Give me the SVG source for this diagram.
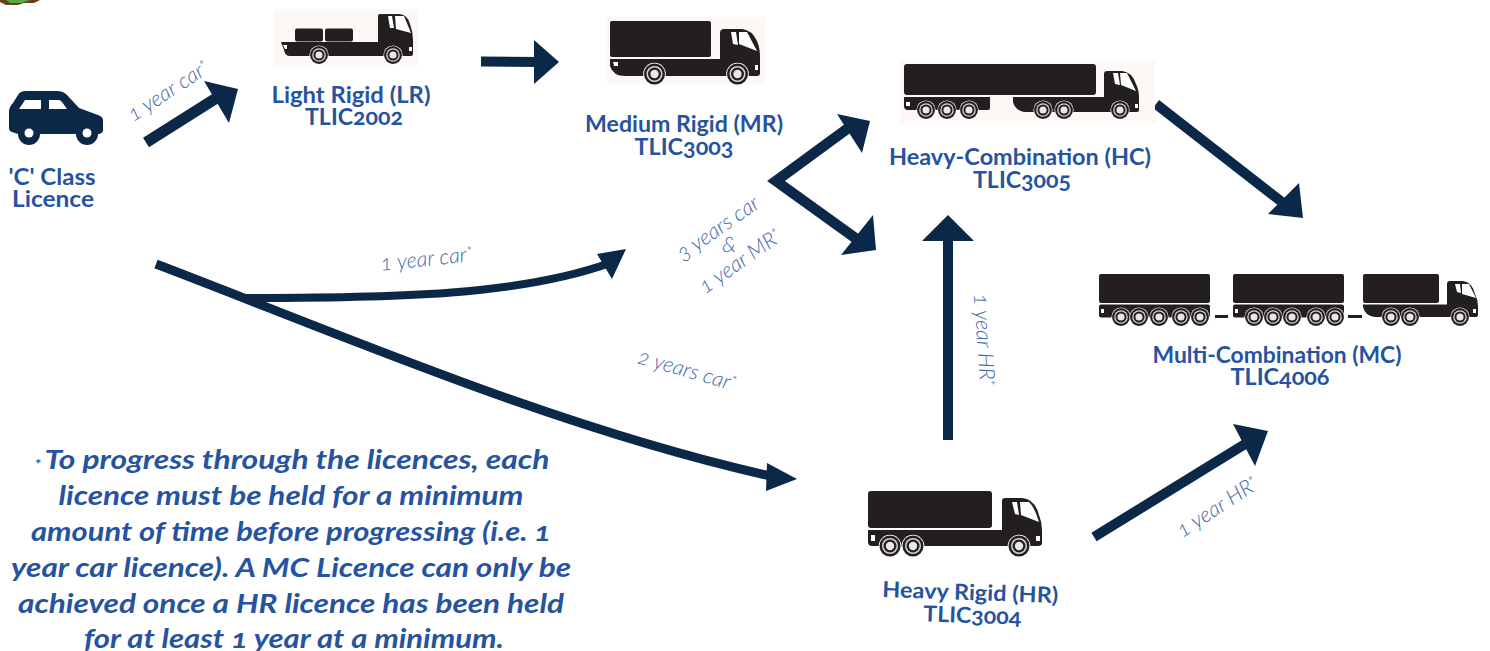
<svg xmlns="http://www.w3.org/2000/svg" width="1490" height="651" viewBox="0 0 1490 651">
<style>
text{font-family:"Lato","Open Sans","Liberation Sans",sans-serif;text-anchor:middle;font-variant-numeric:oldstyle-nums}
.t{font-size:22px;font-weight:700;fill:#2653a0}
.l{font-size:21.500px;font-weight:300;font-style:italic;fill:#3f67b0}
.n{font-size:27.500px;font-weight:700;font-style:italic;fill:#2653a0}
.s{font-size:14px}
.b{fill:#231f20}
.bg{fill:#fdf8f5}
.g{fill:#fff}
.sh{fill:none;stroke:#0b2848;stroke-linecap:butt}
.h{fill:#0b2848}
</style>
<defs>
<g id="w"><circle r="11.300" fill="#fff"/><circle r="10.500" fill="#231f20"/><circle r="8" fill="#d8d4d2"/><circle r="6.500" fill="#231f20"/><circle r="4.200" fill="#e9e6e4"/></g>
</defs>
<rect width="1490" height="651" fill="#fff"/>
<g id="logo-corner"><path d="M0 0H40L34 3H24L18 5H6L0 2Z" fill="#6b3d1e"/><path d="M6 0H30L22 3H10Z" fill="#5aa845"/></g>

<g id="connectors">
<path class="sh" stroke-width="11" d="M146 142.500L218 97"/><polygon class="h" points="204,81 238,89 229,123"/>
<path class="sh" stroke-width="10" d="M481 61.500L537 62"/><polygon class="h" points="534,40 559,62 534,84"/>
<path class="sh" stroke-width="10.500" d="M851 126L776 181L858 240"/><polygon class="h" points="837,114 870,121 862,153"/><polygon class="h" points="873,215 876,250 841,255"/>
<path class="sh" stroke-width="10" d="M1156 104L1287 206"/><polygon class="h" points="1299,183 1303,218 1268,214"/>
<path class="sh" stroke-width="10" d="M948 440V238"/><polygon class="h" points="922,241 948,215 974,241"/>
<path class="sh" stroke-width="10" d="M1094 537L1250 441"/><polygon class="h" points="1233,424 1268,431 1255,466"/>
<path class="sh" stroke-width="9" stroke-linecap="round" d="M156 264C330 330 560 430 775 477"/><polygon class="h" points="767,463 797,479 766,491"/>
<path class="sh" stroke-width="8" d="M245 298C400 298 520 295 610 263"/><polygon class="h" points="597,254 626,249 612,279"/>
</g>

<g id="node-car">
<path fill="#0b2848" d="M9 112Q9 107 13 103L18 95Q20 91 26 91H57Q63 91 67 95L79 108L98 115Q103 117 103 120V130Q103 133 99 134H98A11 11 0 0 1 76 134H40A11 11 0 0 1 18 134L12 132Q9 131 9 128Z"/>
<path fill="#fff" d="M19 109L25 100H41V109ZM49 100H58Q61 100 62 102L67 109H49Z"/>
<circle cx="29" cy="133" r="4.500" fill="#fff"/><circle cx="87" cy="133" r="4.500" fill="#fff"/>
<text class="t" x="52" y="185" textLength="87" lengthAdjust="spacingAndGlyphs">'C' Class</text>
<text class="t" x="53" y="207" textLength="82" lengthAdjust="spacingAndGlyphs">Licence</text>
</g>

<g id="node-lr">
<rect class="bg" x="273" y="9" width="146" height="56"/>
<rect class="b" x="295" y="28.500" width="28" height="13" rx="2"/><rect class="b" x="325" y="28.500" width="28" height="13" rx="2"/>
<path class="b" d="M378 42V16Q378 14 380 14H399Q407 14 410 24Q413 32 413 40V54Q413 56 411 56H290Q285 56 284 50L281 42Z"/>
<path class="g" d="M388 16H392L394 28H390ZM395 16H404L411 33L396 29ZM283 45H287V49H285ZM409 47H412V51H409Z"/>
<use href="#w" transform="translate(319 55) scale(.85)"/>
<use href="#w" transform="translate(393 55) scale(.85)"/>
<text class="t" x="351" y="103" textLength="159" lengthAdjust="spacingAndGlyphs">Light Rigid (LR)</text>
<text class="t" x="354" y="125" textLength="98" lengthAdjust="spacingAndGlyphs">TLIC2002</text>
</g>

<g id="node-mr">
<rect class="bg" x="607" y="17" width="158" height="67"/>
<rect class="b" x="610" y="21" width="101" height="36" rx="2"/>
<path class="b" d="M720 33Q720 29 724 29H742Q752 30 757 41Q760 48 760 57V73Q760 76 757 76H625Q613 76 610 66V59H720Z"/>
<path class="g" d="M731 32H736L738 45L733 44ZM739 32H747L757 51L739 44ZM613 62H618V66H614ZM755 65H758V70H755Z"/>
<use href="#w" x="654.500" y="74"/><use href="#w" x="737.500" y="74"/>
<text class="t" x="684" y="132" textLength="198" lengthAdjust="spacingAndGlyphs">Medium Rigid (MR)</text>
<text class="t" x="684" y="155" textLength="99" lengthAdjust="spacingAndGlyphs">TLIC3003</text>
</g>

<g id="node-hc">
<rect class="bg" x="900" y="61" width="255" height="62"/>
<rect class="b" x="904" y="64" width="192" height="31" rx="3"/>
<path class="b" d="M904 97H990V108Q990 110 988 110H908Q904 110 904 106Z"/>
<path class="b" d="M1104 74Q1104 71 1107 71H1122Q1132 72 1136 84Q1139 90 1139 98V110Q1139 112 1137 112H1026Q1015 111 1013 102V97H1104Z"/>
<path class="g" d="M1113 73H1118L1120 85L1115 84ZM1120 73H1127L1136 91L1121 85ZM906 102H910V106H906ZM1135 104H1138V108H1135Z"/>
<use href="#w" transform="translate(926 110) scale(.85)"/><use href="#w" transform="translate(947 110) scale(.85)"/><use href="#w" transform="translate(969 110) scale(.85)"/><use href="#w" transform="translate(1043 110) scale(.85)"/><use href="#w" transform="translate(1064 110) scale(.85)"/><use href="#w" transform="translate(1120 110) scale(.85)"/>
<text class="t" x="1020" y="165" textLength="262" lengthAdjust="spacingAndGlyphs">Heavy-Combination (HC)</text>
<text class="t" x="1022" y="188" textLength="98" lengthAdjust="spacingAndGlyphs">TLIC3005</text>
</g>

<g id="node-mc">
<rect class="b" x="1099" y="274" width="111" height="29" rx="2"/><rect class="b" x="1099" y="304.500" width="111" height="13" rx="2"/>
<rect class="b" x="1215" y="315" width="13" height="3"/>
<rect class="b" x="1233" y="274" width="111" height="29" rx="2"/><rect class="b" x="1233" y="304.500" width="111" height="13" rx="2"/>
<rect class="b" x="1348" y="315" width="14" height="3"/>
<rect class="b" x="1363" y="274" width="76" height="29" rx="2"/>
<path class="b" d="M1447 284Q1447 281 1450 281H1463Q1472 282 1475 294Q1478 300 1478 306V315Q1478 317 1476 317H1375Q1365 316 1363 307V304.500H1447Z"/>
<path class="g" d="M1455 284H1460L1461 293L1457 292ZM1462 284H1469L1476 298L1462 294ZM1101 309H1104V313H1101ZM1235 309H1238V313H1235ZM1473 309H1476V313H1473Z"/>
<use href="#w" transform="translate(1121 317) scale(.85)"/><use href="#w" transform="translate(1139 317) scale(.85)"/><use href="#w" transform="translate(1159 317) scale(.85)"/><use href="#w" transform="translate(1181 317) scale(.85)"/><use href="#w" transform="translate(1200 317) scale(.85)"/>
<use href="#w" transform="translate(1254 317) scale(.85)"/><use href="#w" transform="translate(1273 317) scale(.85)"/><use href="#w" transform="translate(1292 317) scale(.85)"/><use href="#w" transform="translate(1316 317) scale(.85)"/><use href="#w" transform="translate(1335 317) scale(.85)"/>
<use href="#w" transform="translate(1391 317) scale(.85)"/><use href="#w" transform="translate(1410 317) scale(.85)"/><use href="#w" transform="translate(1460 317) scale(.85)"/>
<text class="t" x="1277" y="363" textLength="249" lengthAdjust="spacingAndGlyphs">Multi-Combination (MC)</text>
<text class="t" x="1280" y="385" textLength="99" lengthAdjust="spacingAndGlyphs">TLIC4006</text>
</g>

<g id="node-hr">
<rect class="b" x="868" y="491" width="124" height="37" rx="3"/>
<path class="b" d="M1002 501Q1002 498 1005 498H1022Q1035 499 1039 515Q1042 522 1042 530V543Q1042 546 1038 546H872Q868 546 868 542V530H1002Z"/>
<path class="g" d="M1012 502H1017L1019 515L1015 514ZM1020 502H1029Q1035 508 1039 522L1021 515ZM871 535H875V541H871ZM1036 536H1040V541H1036Z"/>
<use href="#w" x="890" y="546"/><use href="#w" x="913" y="546"/><use href="#w" x="1019" y="546"/>
<text class="t" x="970" y="600" textLength="176" lengthAdjust="spacingAndGlyphs" transform="rotate(2 970 600)">Heavy Rigid (HR)</text>
<text class="t" x="972" y="623" textLength="98" lengthAdjust="spacingAndGlyphs" transform="rotate(2 972 623)">TLIC3004</text>
</g>

<g id="labels">
<text class="l" transform="translate(172 97) rotate(-33)">1 year car<tspan class="s" dy="-5">*</tspan></text>
<text class="l" transform="translate(427 266) rotate(-6)">1 year car<tspan class="s" dy="-5">*</tspan></text>
<text class="l" transform="translate(685 377) rotate(16)">2 years car<tspan class="s" dy="-5">*</tspan></text>
<text class="l" transform="translate(977 340) rotate(86)">1 year HR<tspan class="s" dy="-5">*</tspan></text>
<text class="l" transform="translate(1221 513) rotate(-33)">1 year HR<tspan class="s" dy="-5">*</tspan></text>
<text class="l" transform="translate(722 234) rotate(-35)">3 years car</text>
<text class="l" transform="translate(729 252)">&amp;</text>
<text class="l" transform="translate(744 267) rotate(-35)">1 year MR<tspan class="s" dy="-5">*</tspan></text>
</g>

<g id="footnote">
<text class="n" x="292" y="469" textLength="515" lengthAdjust="spacingAndGlyphs"><tspan class="s">* </tspan>To progress through the licences, each</text>
<text class="n" x="291" y="505" textLength="465" lengthAdjust="spacingAndGlyphs">licence must be held for a minimum</text>
<text class="n" x="291" y="541" textLength="520" lengthAdjust="spacingAndGlyphs">amount of time before progressing (i.e. 1</text>
<text class="n" x="291" y="577" textLength="560" lengthAdjust="spacingAndGlyphs">year car licence). A MC Licence can only be</text>
<text class="n" x="291" y="613" textLength="546" lengthAdjust="spacingAndGlyphs">achieved once a HR licence has been held</text>
<text class="n" x="294" y="648" textLength="420" lengthAdjust="spacingAndGlyphs">for at least 1 year at a minimum.</text>
</g>
</svg>
